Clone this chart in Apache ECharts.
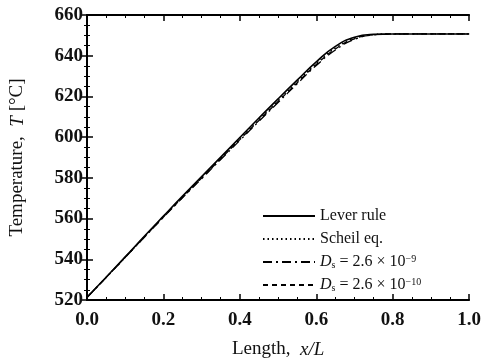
<!DOCTYPE html>
<html>
<head>
<meta charset="utf-8">
<script src="https://cdn.jsdelivr.net/npm/echarts@6/dist/echarts.min.js"></script>
<style>
html, body { margin: 0; padding: 0; background: #fff; }
#chart { width: 484px; height: 364px; }
</style>
</head>
<body>
<div id="chart"></div>
<script>
// x/L positions
var xPos = [0, 0.05, 0.1, 0.15, 0.2, 0.25, 0.3, 0.35, 0.4, 0.45, 0.5,
            0.55, 0.6, 0.65, 0.7, 0.75, 0.8, 0.85, 0.9, 0.95, 1.0];

// temperatures
var leverRule = [521.3, 531.2, 541.2, 551.3, 561.2, 571, 580.6, 590.2, 599.8, 609.4, 618.8,
                 628, 637, 644.6, 649.1, 650.5, 650.7, 650.7, 650.7, 650.7, 650.7];
var scheilEq  = [521.3, 531.1, 541, 551, 560.9, 570.6, 580.2, 589.7, 599.2, 608.7, 618,
                 627.2, 636.2, 643.8, 648.6, 650.4, 650.7, 650.7, 650.7, 650.7, 650.7];
var ds9       = [521.3, 531, 540.9, 550.8, 560.6, 570.2, 579.6, 589, 598.4, 607.8, 617,
                 626.2, 635.2, 642.8, 648, 650.2, 650.6, 650.7, 650.7, 650.7, 650.7];
var ds10      = [521.3, 531.1, 541, 550.9, 560.8, 570.4, 579.9, 589.4, 598.8, 608.2, 617.5,
                 626.7, 635.7, 643.3, 648.3, 650.3, 650.7, 650.7, 650.7, 650.7, 650.7];

var seriesNames = ['Lever rule', 'Scheil eq.', 'Ds9', 'Ds10'];
var legendText = {
    'Lever rule': 'Lever rule',
    'Scheil eq.': 'Scheil eq.',
    'Ds9': '{i|D}{sub|s} = 2.6 × 10{sup|−9}',
    'Ds10': '{i|D}{sub|s} = 2.6 × 10{sup|−10}'
};

function pairs(ys) {
    return xPos.map(function (x, i) { return [x, ys[i]]; });
}

var font = 'Liberation Serif';
var dom = document.getElementById('chart');
var myChart = echarts.init(dom, null, { renderer: 'canvas' });

var tickCommon = {
    axisLine: { show: true, lineStyle: { color: '#000', width: 2 } },
    axisTick: { show: true, inside: true, length: 6, lineStyle: { color: '#000', width: 1.5 } },
    minorTick: { show: true, splitNumber: 4, length: 3, lineStyle: { color: '#000', width: 1 } },
    splitLine: { show: false }
};

var option = {
    backgroundColor: '#fff',
    animation: false,
    grid: { left: 83, right: 14, top: 15, bottom: 62 },
    legend: {
        orient: 'vertical',
        left: 257,
        top: 203,
        itemWidth: 52,
        itemHeight: 14,
        itemGap: 7,
        data: seriesNames,
        itemStyle: { opacity: 0 },
        formatter: function (name) { return legendText[name]; },
        textStyle: {
            fontFamily: font,
            fontSize: 16,
            color: '#111',
            rich: {
                i: { fontFamily: font, fontStyle: 'italic', fontSize: 16, color: '#111' },
                sub: { fontFamily: font, fontSize: 10, color: '#111', verticalAlign: 'bottom', lineHeight: 16 },
                sup: { fontFamily: font, fontSize: 10, color: '#111', verticalAlign: 'top', lineHeight: 16 }
            }
        }
    },
    xAxis: [
        Object.assign({
            type: 'value', min: 0, max: 1, interval: 0.2,
            name: 'Length,  {i|x/L}',
            nameLocation: 'middle',
            nameGap: 40,
            nameTextStyle: {
                fontFamily: font, fontSize: 19, color: '#111',
                rich: { i: { fontFamily: font, fontStyle: 'italic', fontSize: 19, color: '#111' } }
            },
            axisLabel: {
                fontFamily: font, fontSize: 19, fontWeight: 'bold', color: '#111', margin: 11,
                formatter: function (v) { return v.toFixed(1); }
            }
        }, tickCommon),
        Object.assign({
            type: 'value', min: 0, max: 1, interval: 0.2, position: 'top',
            axisLabel: { show: false }
        }, tickCommon)
    ],
    yAxis: [
        Object.assign({
            type: 'value', min: 520, max: 660, interval: 20,
            name: 'Temperature,  {i|T} [°C]',
            nameLocation: 'middle',
            nameGap: 60,
            nameTextStyle: {
                fontFamily: font, fontSize: 19, color: '#111',
                rich: { i: { fontFamily: font, fontStyle: 'italic', fontSize: 19, color: '#111' } }
            },
            axisLabel: { fontFamily: font, fontSize: 19, fontWeight: 'bold', color: '#111', margin: 4 }
        }, tickCommon),
        Object.assign({
            type: 'value', min: 520, max: 660, interval: 20, position: 'right',
            axisLabel: { show: false }
        }, tickCommon)
    ],
    series: [
        {
            name: 'Lever rule', type: 'line', smooth: true, symbol: 'none',
            lineStyle: { color: '#000', width: 1.6, type: 'solid' },
            itemStyle: { color: '#000' },
            data: pairs(leverRule)
        },
        {
            name: 'Scheil eq.', type: 'line', smooth: true, symbol: 'none',
            lineStyle: { color: '#000', width: 1.3, type: [1.5, 3] },
            itemStyle: { color: '#000' },
            data: pairs(scheilEq)
        },
        {
            name: 'Ds9', type: 'line', smooth: true, symbol: 'none',
            lineStyle: { color: '#000', width: 1.3, type: [9, 4, 2, 4] },
            itemStyle: { color: '#000' },
            data: pairs(ds9)
        },
        {
            name: 'Ds10', type: 'line', smooth: true, symbol: 'none',
            lineStyle: { color: '#000', width: 1.3, type: [5, 4] },
            itemStyle: { color: '#000' },
            data: pairs(ds10)
        }
    ]
};

myChart.setOption(option);
</script>
</body>
</html>
